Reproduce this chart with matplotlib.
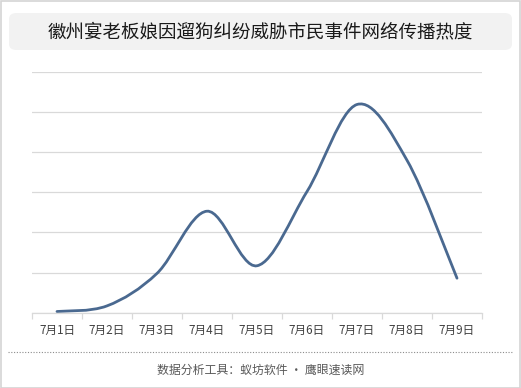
import matplotlib
matplotlib.use('Agg')
import matplotlib.pyplot as plt
from matplotlib.path import Path
from matplotlib.patches import PathPatch, FancyBboxPatch, Rectangle

plt.rcParams['font.family'] = ['Noto Sans CJK SC', 'DejaVu Sans']

title = '徽州宴老板娘因遛狗纠纷威胁市民事件网络传播热度'
footer = '数据分析工具：蚁坊软件 · 鹰眼速读网'
dates = ['7月1日', '7月2日', '7月3日', '7月4日', '7月5日', '7月6日', '7月7日', '7月8日', '7月9日']
heat = [0.03, 0.17, 0.98, 2.53, 1.17, 3.02, 5.19, 3.80, 0.86]


def smooth_path(xs, ys):
    # catmull-rom style bezier, like office "smoothed line"
    pts = list(zip(xs, ys))
    n = len(pts)
    verts = [pts[0]]
    codes = [Path.MOVETO]
    for i in range(n - 1):
        p0 = pts[max(i - 1, 0)]
        p1 = pts[i]
        p2 = pts[i + 1]
        p3 = pts[min(i + 2, n - 1)]
        c1 = (p1[0] + (p2[0] - p0[0]) / 6, p1[1] + (p2[1] - p0[1]) / 6)
        c2 = (p2[0] - (p3[0] - p1[0]) / 6, p2[1] - (p3[1] - p1[1]) / 6)
        verts += [c1, c2, p2]
        codes += [Path.CURVE4] * 3
    return Path(verts, codes)


fig = plt.figure(figsize=(5.21, 3.88), dpi=100)
fig.patch.set_facecolor('white')

# outer frame
fig.patches.append(Rectangle((0.001, 0.001), 0.997, 0.997, transform=fig.transFigure,
                             fill=False, edgecolor='#d4d4d4', linewidth=1.2))
# title box
fig.patches.append(FancyBboxPatch((9 / 521, 1 - 50 / 388), 503 / 521, 37 / 388,
                                  boxstyle='round,pad=0,rounding_size=0.015',
                                  transform=fig.transFigure, facecolor='#f2f2f2',
                                  edgecolor='none'))
fig.text(0.5, 1 - 32 / 388, title, ha='center', va='center', fontsize=13.3, color='#1a1a1a')

ax = fig.add_axes([32 / 521, 1 - 312.7 / 388, 450 / 521, 240.7 / 388])
x = list(range(len(dates)))
ax.add_patch(PathPatch(smooth_path(x, heat), facecolor='none', edgecolor='#4a6990',
                       linewidth=2.0, capstyle='round'))
ax.set_xlim(-0.5, len(dates) - 0.5)
ax.set_ylim(0, 6)
ax.set_yticks(range(0, 7))
ax.set_yticklabels([])
ax.tick_params(axis='y', length=0)
ax.grid(True, axis='y', color='#d9d9d9', linewidth=0.9)
ax.set_axisbelow(True)
for s in ['left', 'right', 'top']:
    ax.spines[s].set_visible(False)
ax.spines['bottom'].set_color('#d9d9d9')
ax.spines['bottom'].set_linewidth(0.9)

ax.set_xticks([i - 0.5 for i in range(len(dates) + 1)], minor=False)
ax.set_xticklabels([])
ax.tick_params(axis='x', which='major', length=4, color='#d9d9d9', width=0.9)
ax.set_xticks(x, minor=True)
ax.set_xticklabels(dates, minor=True, fontsize=8.4, color='#404040')
ax.tick_params(axis='x', which='minor', length=0, pad=8)

# dotted separator and footer
fig.add_artist(plt.Line2D([8 / 521, 513 / 521], [1 - 352 / 388, 1 - 352 / 388],
                          transform=fig.transFigure, color='#8c8c8c',
                          linewidth=0.8, linestyle=(0, (1, 1.5))))
fig.text(0.5, 1 - 370 / 388, footer, ha='center', va='center', fontsize=8.6, color='#595959')

fig.savefig('out.png', dpi=100)
